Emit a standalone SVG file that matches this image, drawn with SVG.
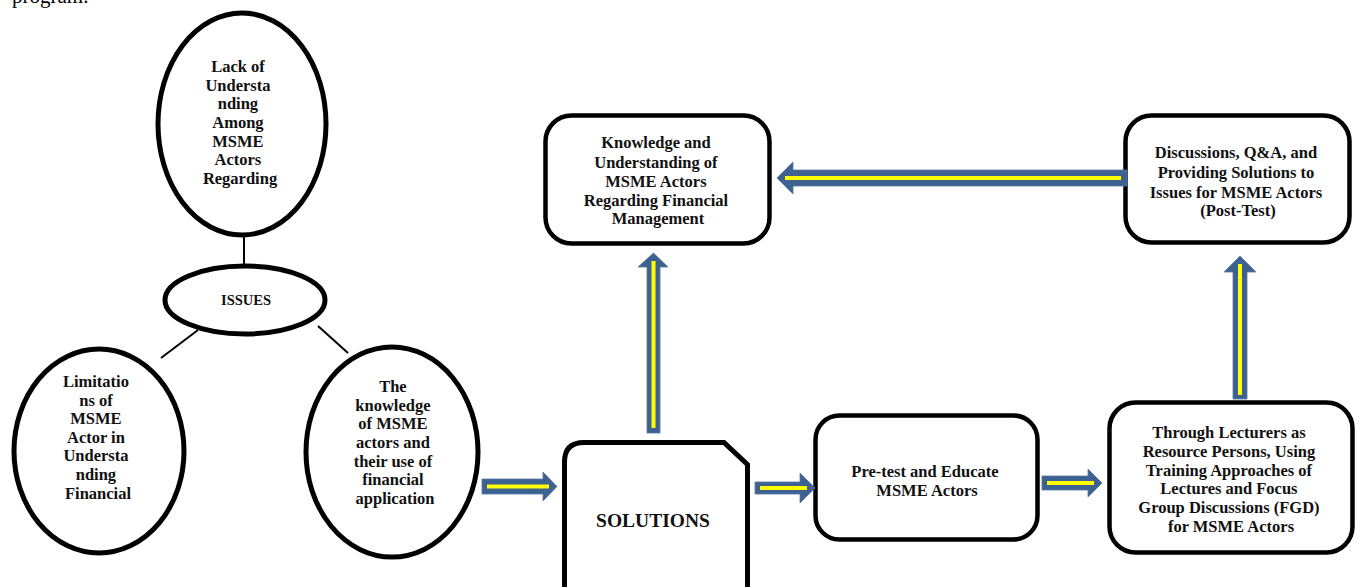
<svg xmlns="http://www.w3.org/2000/svg" width="1363" height="587" viewBox="0 0 1363 587">
  <style>
    .bg { fill: #ffffff; }
    .oval { fill: #ffffff; stroke: #000000; stroke-width: 5; }
    .box { fill: #ffffff; stroke: #000000; stroke-width: 4.5; }
    .link { stroke: #000000; stroke-width: 2; fill: none; }
    .arrow { fill: #3d6190; stroke: #5a7aa6; stroke-width: 0.8; }
    .core { stroke: #ffff00; stroke-width: 4; fill: none; }
    .lbl { font-family: "Liberation Serif", "Times New Roman", serif; font-weight: bold; font-size: 16.5px; fill: #111111; text-anchor: middle; }
    .cap { font-family: "Liberation Serif", "Times New Roman", serif; font-size: 21px; fill: #000000; }
  </style>

  <rect class="bg" x="0" y="0" width="1363" height="587"/>

  <!-- trailing word of the paragraph above -->
  <text class="cap" x="12" y="3">program.</text>

  <!-- thin tie lines around the ISSUES hub -->
  <g id="ties">
    <line class="link" x1="244" y1="236" x2="244" y2="266"/>
    <line class="link" x1="198" y1="330" x2="161" y2="358"/>
    <line class="link" x1="318" y1="326" x2="348" y2="353"/>
  </g>

  <g id="issue-lack">
    <ellipse class="oval" cx="242" cy="124" rx="84" ry="111"/>
    <text class="lbl" x="240">
      <tspan x="240" y="72">Lack of</tspan>
      <tspan x="240" y="91">Understa</tspan>
      <tspan x="240" y="109">nding</tspan>
      <tspan x="240" y="128">Among</tspan>
      <tspan x="240" y="147">MSME</tspan>
      <tspan x="240" y="165">Actors</tspan>
      <tspan x="240" y="184">Regarding</tspan>
    </text>
  </g>

  <g id="issues">
    <ellipse class="oval" cx="245" cy="300" rx="80" ry="34"/>
    <text class="lbl" x="246" y="305" style="font-size:14.5px">ISSUES</text>
  </g>

  <g id="issue-limitations">
    <ellipse class="oval" cx="99" cy="451" rx="85" ry="102"/>
    <text class="lbl">
      <tspan x="98" y="387">Limitatio</tspan>
      <tspan x="98" y="406">ns of</tspan>
      <tspan x="98" y="424">MSME</tspan>
      <tspan x="98" y="443">Actor in</tspan>
      <tspan x="98" y="461">Understa</tspan>
      <tspan x="98" y="480">nding</tspan>
      <tspan x="98" y="499">Financial</tspan>
    </text>
  </g>

  <g id="issue-knowledge">
    <ellipse class="oval" cx="392" cy="452" rx="86" ry="105"/>
    <text class="lbl">
      <tspan x="395" y="392">The</tspan>
      <tspan x="395" y="411">knowledge</tspan>
      <tspan x="395" y="429">of MSME</tspan>
      <tspan x="395" y="448">actors and</tspan>
      <tspan x="395" y="467">their use of</tspan>
      <tspan x="395" y="485">financial</tspan>
      <tspan x="395" y="504">application</tspan>
    </text>
  </g>

  <g id="solutions">
    <path class="box" d="M564.5,600 V462 Q564.5,442.5 584,442.5 H724 L747.5,464.5 V600" style="stroke-width:5"/>
    <text class="lbl" x="653" y="527" style="font-size:19.5px">SOLUTIONS</text>
  </g>

  <g id="pretest">
    <rect class="box" x="815.5" y="415.5" width="222" height="124" rx="24"/>
    <text class="lbl">
      <tspan x="927" y="477">Pre-test and Educate</tspan>
      <tspan x="927" y="496">MSME Actors</tspan>
    </text>
  </g>

  <g id="training">
    <rect class="box" x="1109.5" y="402.5" width="243" height="150" rx="26"/>
    <text class="lbl">
      <tspan x="1231" y="438">Through Lecturers as</tspan>
      <tspan x="1231" y="457">Resource Persons, Using</tspan>
      <tspan x="1231" y="476">Training Approaches of</tspan>
      <tspan x="1231" y="494">Lectures and Focus</tspan>
      <tspan x="1231" y="513">Group Discussions (FGD)</tspan>
      <tspan x="1231" y="532">for MSME Actors</tspan>
    </text>
  </g>

  <g id="posttest">
    <rect class="box" x="1125.5" y="115.5" width="224" height="127" rx="26"/>
    <text class="lbl">
      <tspan x="1238" y="158">Discussions, Q&amp;A, and</tspan>
      <tspan x="1238" y="178">Providing Solutions to</tspan>
      <tspan x="1238" y="198">Issues for MSME Actors</tspan>
      <tspan x="1238" y="216">(Post-Test)</tspan>
    </text>
  </g>

  <g id="outcome">
    <rect class="box" x="545.5" y="115.5" width="224" height="128" rx="26"/>
    <text class="lbl">
      <tspan x="658" y="148">Knowledge and</tspan>
      <tspan x="658" y="168">Understanding of</tspan>
      <tspan x="658" y="187">MSME Actors</tspan>
      <tspan x="658" y="206">Regarding Financial</tspan>
      <tspan x="658" y="224">Management</tspan>
    </text>
  </g>

  <!-- block arrows with a yellow core stripe -->
  <g id="connectors">
    <polygon class="arrow" points="482,479 543,479 543,472 557,486.5 543,501 543,494 482,494"/>
    <line class="core" x1="487" y1="486.5" x2="549" y2="486.5"/>

    <polygon class="arrow" points="755,482 800,482 800,473 815,488 800,503 800,494 755,494"/>
    <line class="core" x1="760" y1="488" x2="807" y2="488"/>

    <polygon class="arrow" points="1042,476 1088,476 1088,469 1102,483 1088,497 1088,490 1042,490"/>
    <line class="core" x1="1047" y1="483" x2="1094" y2="483"/>

    <polygon class="arrow" points="647,433 647,267 638,267 653.5,253 668,267 660,267 660,433"/>
    <line class="core" x1="653.5" y1="428" x2="653.5" y2="261"/>

    <polygon class="arrow" points="1233,399 1233,272 1224,272 1240,256 1256,272 1247,272 1247,399"/>
    <line class="core" x1="1240" y1="395" x2="1240" y2="264"/>

    <polygon class="arrow" points="1127,170 793,170 793,162 777,178 793,194 793,186 1127,186"/>
    <line class="core" x1="1121" y1="178" x2="785" y2="178"/>
  </g>
</svg>
